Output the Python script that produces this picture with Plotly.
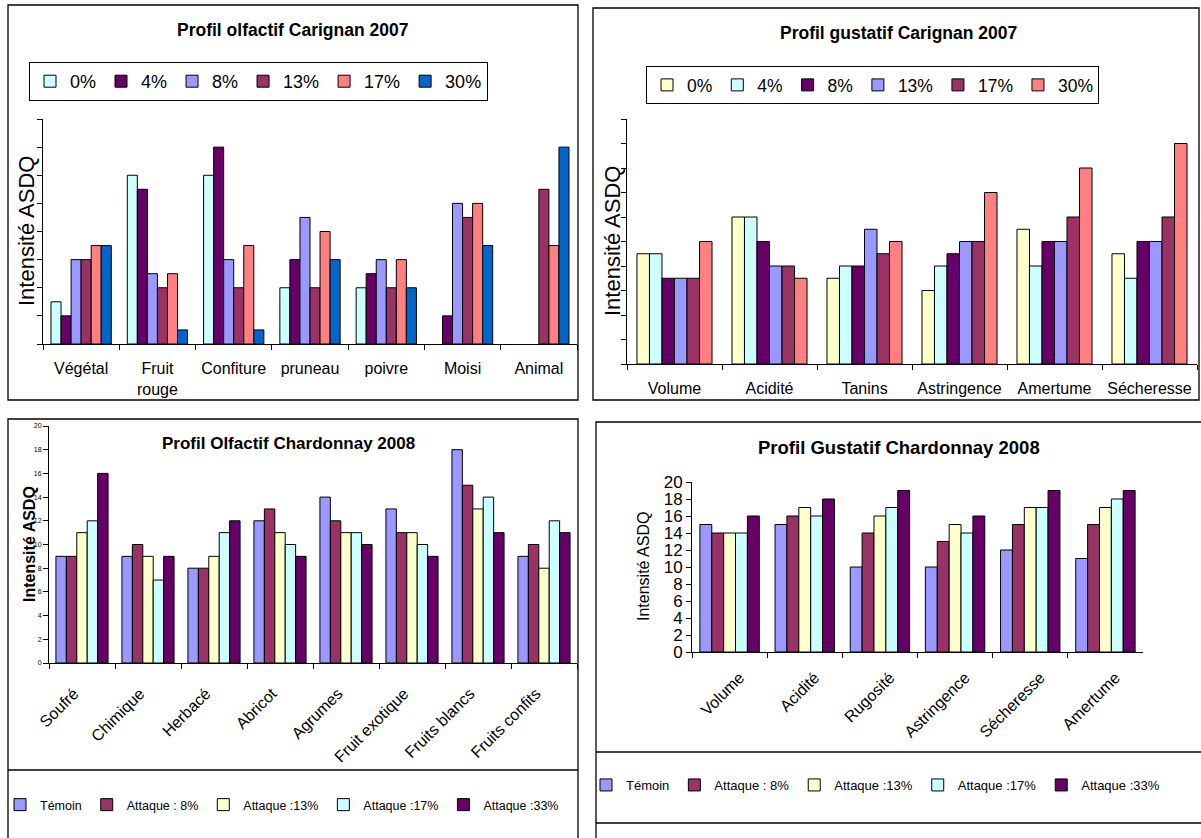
import plotly.graph_objects as go

W, H = 1201, 838
FONT = "Liberation Sans, Arial, sans-serif"

# --- Profil olfactif Carignan 2007 (intensity in axis units) ---
olf_car_categories = ["Végétal", "Fruit<br>rouge", "Confiture", "pruneau", "poivre", "Moisi", "Animal"]
olf_car_series = ["0%", "4%", "8%", "13%", "17%", "30%"]
olf_car_0 = [1.5, 6, 6, 2, 2, None, None]
olf_car_4 = [1, 5.5, 7, 3, 2.5, 1, None]
olf_car_8 = [3, 2.5, 3, 4.5, 3, 5, None]
olf_car_13 = [3, 2, 2, 2, 2, 4.5, 5.5]
olf_car_17 = [3.5, 2.5, 3.5, 4, 3, 5, 3.5]
olf_car_30 = [3.5, 0.5, 0.5, 3, 2, 3.5, 7]

# --- Profil gustatif Carignan 2007 ---
gus_car_categories = ["Volume", "Acidité", "Tanins", "Astringence", "Amertume", "Sécheresse"]
gus_car_series = ["0%", "4%", "8%", "13%", "17%", "30%"]
gus_car_0 = [4.5, 6, 3.5, 3, 5.5, 4.5]
gus_car_4 = [4.5, 6, 4, 4, 4, 3.5]
gus_car_8 = [3.5, 5, 4, 4.5, 5, 5]
gus_car_13 = [3.5, 4, 5.5, 5, 5, 5]
gus_car_17 = [3.5, 4, 4.5, 5, 6, 6]
gus_car_30 = [5, 3.5, 5, 7, 8, 9]

# --- Profil Olfactif Chardonnay 2008 ---
olf_cha_categories = ["Soufré", "Chimique", "Herbacé", "Abricot", "Agrumes",
                      "Fruit exotique", "Fruits blancs", "Fruits confits"]
cha_series = ["Témoin", "Attaque : 8%", "Attaque :13%", "Attaque :17%", "Attaque :33%"]
olf_cha_temoin = [9, 9, 8, 12, 14, 13, 18, 9]
olf_cha_8 = [9, 10, 8, 13, 12, 11, 15, 10]
olf_cha_13 = [11, 9, 9, 11, 11, 11, 13, 8]
olf_cha_17 = [12, 7, 11, 10, 11, 10, 14, 12]
olf_cha_33 = [16, 9, 12, 9, 10, 9, 11, 11]

# --- Profil Gustatif Chardonnay 2008 ---
gus_cha_categories = ["Volume", "Acidité", "Rugosité", "Astringence", "Sécheresse", "Amertume"]
gus_cha_temoin = [15, 15, 10, 10, 12, 11]
gus_cha_8 = [14, 16, 14, 13, 15, 15]
gus_cha_13 = [14, 17, 16, 15, 17, 17]
gus_cha_17 = [14, 16, 17, 14, 17, 18]
gus_cha_33 = [16, 18, 19, 16, 19, 19]

# Excel-style palette
CYAN = "#CCFFFF"
PLUM_DARK = "#660066"
PERIWINKLE = "#9999FF"
PLUM = "#993366"
SALMON = "#FF8080"
BLUE = "#0066CC"
IVORY = "#FFFFCC"


def px(x):
    return x / W


def py(y):
    return 1 - y / H


fig = go.Figure()


def add_group(cats, names, values, colors, xa, ya, legend):
    for name, vals, col in zip(names, values, colors):
        fig.add_trace(go.Bar(
            x=cats, y=vals, name=name, xaxis=xa, yaxis=ya, legend=legend,
            marker=dict(color=col, line=dict(color="#000000", width=1)),
        ))


add_group(olf_car_categories, olf_car_series,
          [olf_car_0, olf_car_4, olf_car_8, olf_car_13, olf_car_17, olf_car_30],
          [CYAN, PLUM_DARK, PERIWINKLE, PLUM, SALMON, BLUE], "x", "y", "legend")
add_group(gus_car_categories, gus_car_series,
          [gus_car_0, gus_car_4, gus_car_8, gus_car_13, gus_car_17, gus_car_30],
          [IVORY, CYAN, PLUM_DARK, PERIWINKLE, PLUM, SALMON], "x2", "y2", "legend2")
add_group(olf_cha_categories, cha_series,
          [olf_cha_temoin, olf_cha_8, olf_cha_13, olf_cha_17, olf_cha_33],
          [PERIWINKLE, PLUM, IVORY, CYAN, PLUM_DARK], "x3", "y3", "legend3")
add_group(gus_cha_categories, cha_series,
          [gus_cha_temoin, gus_cha_8, gus_cha_13, gus_cha_17, gus_cha_33],
          [PERIWINKLE, PLUM, IVORY, CYAN, PLUM_DARK], "x4", "y4", "legend4")


def xaxis(x0, x1, anchor, size, angle=0, standoff=8, shift=0):
    return dict(domain=[px(x0), px(x1)], anchor=anchor, type="category", automargin=False,
                showline=True, linecolor="#000000", linewidth=1,
                ticks="outside", ticklen=5, tickcolor="#000000", tickson="boundaries",
                showgrid=False, zeroline=False, tickangle=angle,
                ticklabelstandoff=standoff, ticklabelshift=shift,
                tickfont=dict(family=FONT, size=size, color="#000000"))


def yaxis(y_top, y_bot, anchor, rng, dtick, labels, size=10):
    return dict(domain=[py(y_bot), py(y_top)], anchor=anchor, range=rng, dtick=dtick,
                automargin=False,
                showline=True, linecolor="#000000", linewidth=1,
                ticks="outside", ticklen=5, tickcolor="#000000",
                showgrid=False, zeroline=False, showticklabels=labels,
                tickfont=dict(family=FONT, size=size, color="#000000"))


layout = dict(
    template="none",
    width=W, height=H, margin=dict(l=0, r=0, t=0, b=0, pad=0, autoexpand=False),
    paper_bgcolor="#FFFFFF", plot_bgcolor="#FFFFFF",
    barmode="group", bargap=0.21, bargroupgap=0,
    font=dict(family=FONT, color="#000000"),
    xaxis=xaxis(43, 577, "y", 16, 0, 10),
    yaxis=yaxis(119, 344, "x", [0, 8], 1, False),
    xaxis2=xaxis(627, 1197, "y2", 16, 0, 10),
    yaxis2=yaxis(119, 364, "x2", [0, 10], 1, False),
    xaxis3=xaxis(49, 577, "y3", 16, -45, 14, -8),
    yaxis3=yaxis(426, 663, "x3", [0, 20], 2, True, 7),
    xaxis4=xaxis(692, 1143, "y4", 16, -45, 9, 10),
    yaxis4=yaxis(482, 652, "x4", [0, 20], 2, True, 17),
    legend=dict(orientation="h", x=px(29), y=py(62), xanchor="left", yanchor="top",
                bordercolor="#000000", borderwidth=1, bgcolor="#FFFFFF",
                font=dict(family=FONT, size=18), itemclick=False),
    legend2=dict(orientation="h", x=px(646), y=py(66), xanchor="left", yanchor="top",
                 bordercolor="#000000", borderwidth=1, bgcolor="#FFFFFF",
                 font=dict(family=FONT, size=17.5), itemclick=False),
    legend3=dict(orientation="h", x=px(0), y=py(805), xanchor="left", yanchor="middle",
                 bgcolor="rgba(0,0,0,0)", font=dict(family=FONT, size=12.5), itemclick=False),
    legend4=dict(orientation="h", x=px(586), y=py(785), xanchor="left", yanchor="middle",
                 bgcolor="rgba(0,0,0,0)", font=dict(family=FONT, size=13), itemclick=False),
)

# chart frames
frame = dict(type="rect", xref="paper", yref="paper", line=dict(color="#000000", width=1.3),
             fillcolor="rgba(0,0,0,0)", layer="below")
hline = dict(type="line", xref="paper", yref="paper", line=dict(color="#000000", width=1.3))
shapes = [
    dict(frame, x0=px(8), x1=px(578), y0=py(400), y1=py(5)),
    dict(frame, x0=px(593), x1=px(1199), y0=py(400), y1=py(8)),
    dict(frame, x0=px(8), x1=px(578), y0=py(845), y1=py(419)),
    dict(frame, x0=px(596), x1=px(1206), y0=py(845), y1=py(422)),
    dict(hline, x0=px(8), x1=px(578), y0=py(770), y1=py(770)),
    dict(hline, x0=px(596), x1=px(1206), y0=py(752), y1=py(752)),
    dict(hline, x0=px(596), x1=px(1206), y0=py(823), y1=py(823)),
]


def text(x, y, s, size, bold=False, angle=0):
    return dict(x=px(x), y=py(y), xref="paper", yref="paper", showarrow=False,
                text=f"<b>{s}</b>" if bold else s, textangle=angle,
                xanchor="center", yanchor="middle",
                font=dict(family=FONT, size=size, color="#000000"))


annotations = [
    text(292, 30, "Profil olfactif Carignan 2007", 17.5, True),
    text(898, 33, "Profil gustatif Carignan 2007", 17.5, True),
    text(288, 443, "Profil Olfactif Chardonnay 2008", 17, True),
    text(899, 447, "Profil Gustatif Chardonnay 2008", 18.5, True),
    text(26, 231, "Intensité ASDQ", 22, False, -90),
    text(613, 241, "Intensité ASDQ", 22, False, -90),
    text(29, 544, "Intensité ASDQ", 16, True, -90),
    text(643, 567, "Intensité ASDQ", 16, False, -90),
]

fig.update_layout(layout, shapes=shapes, annotations=annotations)
# page body without default margin so the figure fills the window exactly
fig.write_html("out.html", post_script="document.body.style.margin='0';")
